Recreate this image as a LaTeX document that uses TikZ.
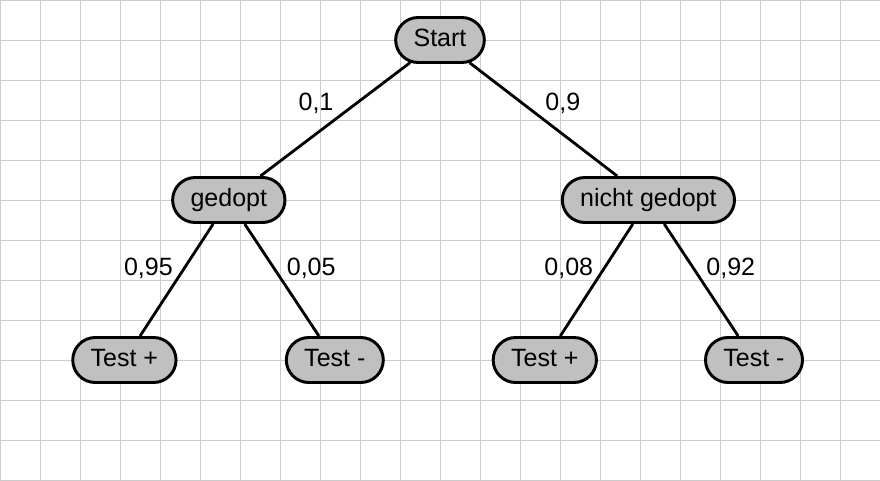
\documentclass[tikz,border=0pt]{standalone}
\usepackage{fontspec}
\setmainfont{Liberation Sans}
\usepackage{tikz}
\usetikzlibrary{shapes.misc}
\definecolor{knoten}{HTML}{C0C0C0}

\begin{document}
\begin{tikzpicture}[
    every node/.style={font=\fontsize{17.8pt}{20pt}\selectfont},
    state/.style={rounded rectangle, draw=black, line width=2.1pt, fill=knoten,
      minimum height=1.125cm, inner xsep=0.425cm, text height=0.9em, text depth=0em},
    prob/.style={anchor=base, inner sep=0pt},
    ast/.style={line width=2pt}]
  \useasboundingbox (0,0) rectangle (22,12);
  \draw[gray!40, line width=0.6pt] (0,0) grid (22,12);
  % Knoten
  \node[state] (start) at (11,11) {Start};
  \node[state] (gedopt) at (5.72,7) {gedopt};
  \node[state] (nichtgedopt) at (16.21,7) {nicht gedopt};
  \node[state] (gplus) at (3.11,3) {Test +};
  \node[state] (gminus) at (8.37,3) {Test -};
  \node[state] (nplus) at (13.62,3) {Test +};
  \node[state] (nminus) at (18.85,3) {Test -};
  % Aeste
  \draw[ast] (start) -- (gedopt);
  \draw[ast] (start) -- (nichtgedopt);
  \draw[ast] (gedopt) -- (gplus);
  \draw[ast] (gedopt) -- (gminus);
  \draw[ast] (nichtgedopt) -- (nplus);
  \draw[ast] (nichtgedopt) -- (nminus);
  % Wahrscheinlichkeiten
  \node[prob] (p1) at (7.9,9.23) {0,1};
  \node[prob] (p2) at (14.07,9.23) {0,9};
  \node[prob] (p3) at (3.71,5.11) {0,95};
  \node[prob] (p4) at (7.78,5.11) {0,05};
  \node[prob] (p5) at (14.22,5.11) {0,08};
  \node[prob] (p6) at (18.27,5.11) {0,92};
\end{tikzpicture}
\end{document}
